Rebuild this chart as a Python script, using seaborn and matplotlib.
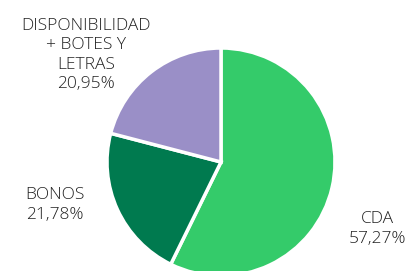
import matplotlib
matplotlib.use("Agg")
import matplotlib.pyplot as plt
import seaborn as sns

# data
categories = ["CDA", "BONOS", "DISPONIBILIDAD\n+ BOTES Y\nLETRAS"]
shares = [57.27, 21.78, 20.95]
colors = ["#34CB6A", "#007A4F", "#9A8FC7"]

sns.set_style("white")
plt.rcParams["font.family"] = ["Open Sans", "DejaVu Sans"]

fig = plt.figure(figsize=(4.07, 2.71), dpi=100)
ax = fig.add_axes([0, 0, 1, 1])

ax.pie(
    shares,
    colors=colors,
    startangle=90,
    counterclock=False,
    center=(221, 109),
    radius=114,
    wedgeprops={"edgecolor": "white", "linewidth": 2.5},
    frame=True,
)
ax.set_xlim(0, 407)
ax.set_ylim(0, 271)
ax.set_axis_off()

# label positions (pixels from bottom-left)
label_pos = [(377, 42), (55, 66), (86, 216)]
for name, val, (x, y) in zip(categories, shares, label_pos):
    txt = f"{name}\n{val:.2f}%".replace(".", ",")
    ax.text(x, y, txt, ha="center", va="center", fontsize=12.5,
            color="#222222", fontweight=300, linespacing=1.3)

fig.savefig("out.png", dpi=100)
